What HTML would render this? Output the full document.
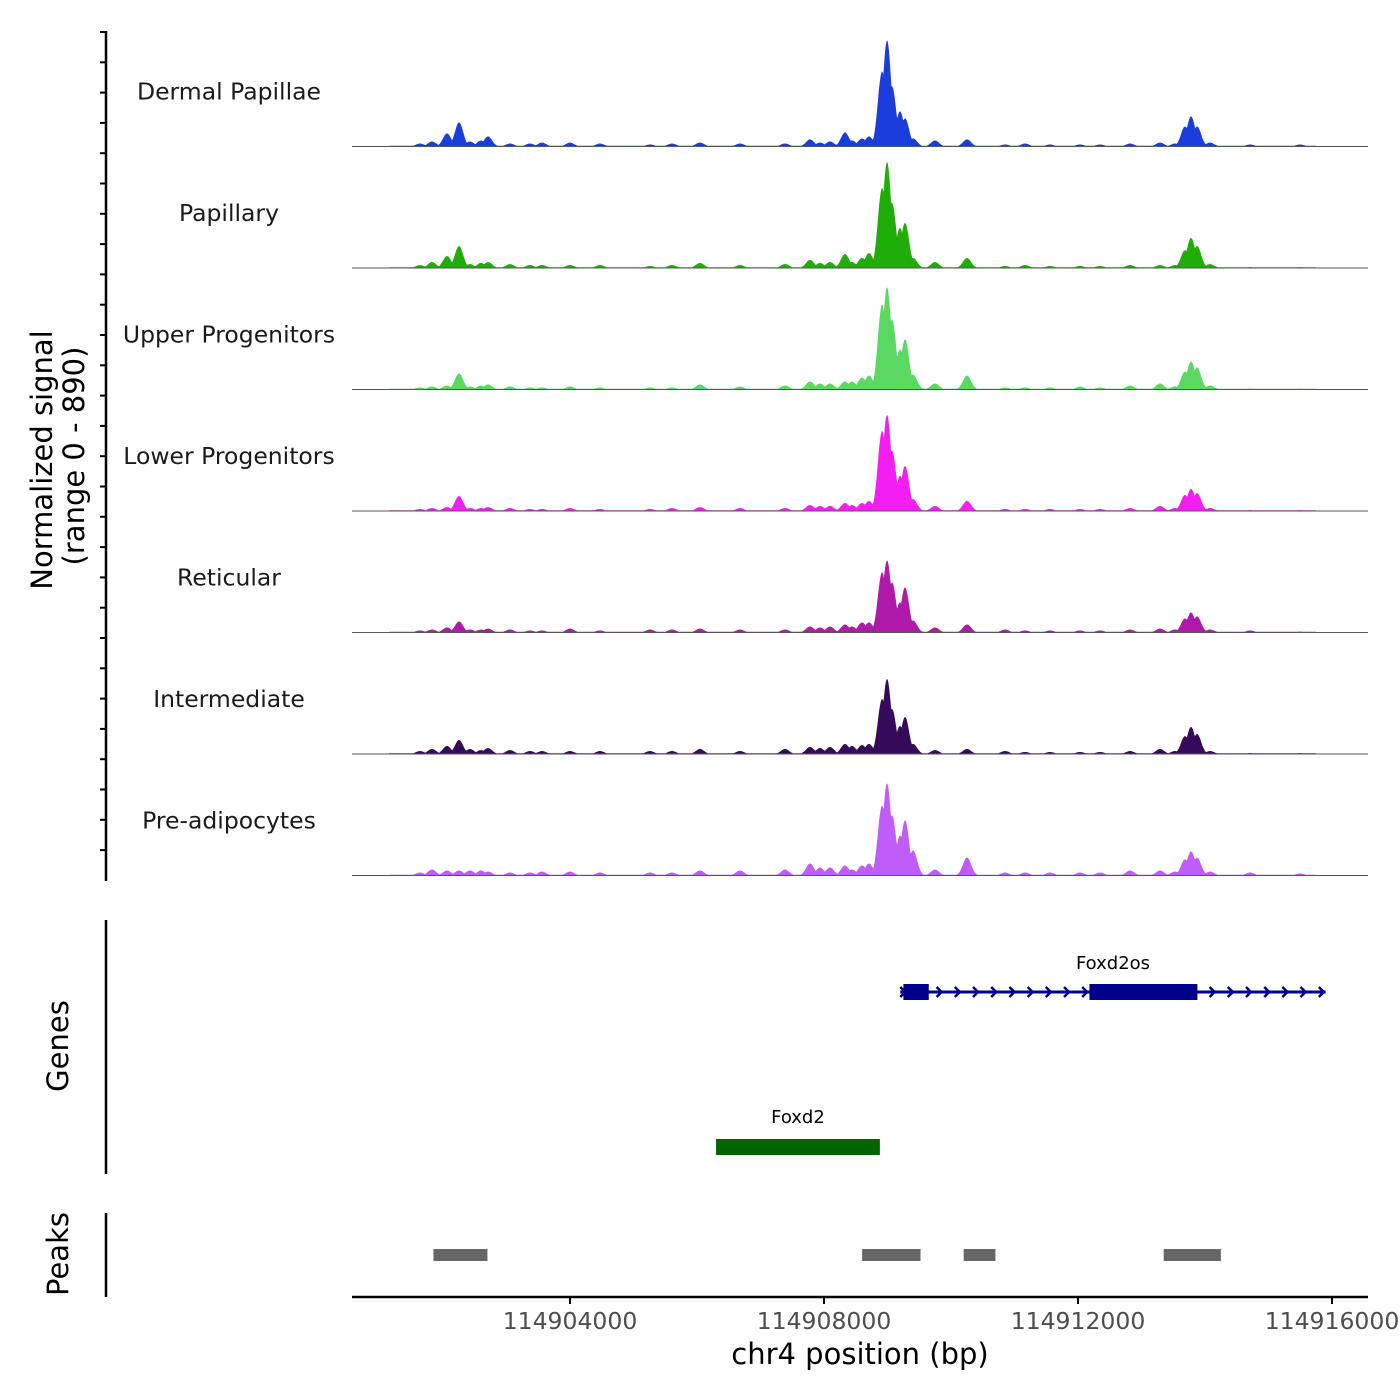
<!DOCTYPE html>
<html><head><meta charset="utf-8"><style>
html,body{margin:0;padding:0;background:#fff;}
svg{display:block;font-family:"Liberation Sans","DejaVu Sans",sans-serif;}
</style></head><body>
<svg id="chart" width="1400" height="1400" viewBox="0 0 1400 1400">
<g>
<text transform="translate(52,460) rotate(-90)" text-anchor="middle" font-size="29" font-family="DejaVu Sans, sans-serif">Normalized signal</text>
<text transform="translate(84,456) rotate(-90)" text-anchor="middle" font-size="29" font-family="DejaVu Sans, sans-serif">(range 0 - 890)</text>
</g>
<line x1="106" y1="31" x2="106" y2="881" stroke="#000" stroke-width="2.5"/>
<g id="yticks"></g>
<g id="tracks"></g>
<line x1="106" y1="920" x2="106" y2="1174" stroke="#000" stroke-width="2.5"/>
<text transform="translate(68,1046) rotate(-90)" text-anchor="middle" font-size="29" font-family="DejaVu Sans, sans-serif">Genes</text>
<line x1="106" y1="1213" x2="106" y2="1297" stroke="#000" stroke-width="2.5"/>
<text transform="translate(68,1254) rotate(-90)" text-anchor="middle" font-size="29" font-family="DejaVu Sans, sans-serif">Peaks</text>
<g id="genes"></g>
<g id="peaks"></g>
<line x1="352" y1="1297" x2="1368" y2="1297" stroke="#000" stroke-width="2.5"/>
<g id="xticks"></g>
<text x="860" y="1364" text-anchor="middle" font-size="29" font-family="DejaVu Sans, sans-serif">chr4 position (bp)</text>
</svg>
<script>
const NS="http://www.w3.org/2000/svg";
const trackNames=["Dermal Papillae","Papillary","Upper Progenitors","Lower Progenitors","Reticular","Intermediate","Pre-adipocytes"];
const trackColors=["#1a3ddc","#1fae07","#5ad862","#f21ef2","#b01aa8","#360a5a","#c05cf7"];
const peakPositions=[114901638,114901827,114902063,114902252,114902425,114902598,114902709,114903055,114903370,114903559,114904000,114904472,114905260,114905606,114906047,114906677,114907386,114907780,114907937,114908095,114908331,114908441,114908599,114908709,114908914,114908993,114909071,114909197,114909276,114909402,114909748,114910252,114910851,114911166,114911560,114912032,114912347,114912820,114913292,114913528,114913686,114913780,114913875,114914080,114914710,114915497];
const dermalPapillae=[22,37,96,177,37,44,74,22,22,29,29,22,15,22,29,22,22,52,29,37,103,44,59,74,552,780,442,258,206,59,44,52,15,22,15,15,15,22,29,22,147,221,147,29,15,15];
const papillary=[22,44,88,162,29,37,44,29,22,22,22,22,15,22,37,22,29,59,37,44,103,44,74,110,589,780,478,294,331,74,44,74,15,22,15,15,15,22,22,22,132,221,162,29,7,7];
const upperProgenitors=[15,22,29,118,22,29,37,22,15,15,22,15,15,15,37,22,29,59,44,44,59,59,88,103,626,751,515,294,368,110,44,103,15,15,15,22,15,29,44,22,132,206,162,29,7,7];
const lowerProgenitors=[15,22,29,110,22,22,29,22,15,15,22,15,15,22,29,22,22,44,37,37,59,44,59,74,589,707,442,258,331,88,37,74,15,15,15,15,15,22,37,22,118,162,132,22,7,7];
const reticular=[15,22,37,81,22,22,29,22,15,15,29,15,22,22,29,22,22,44,37,44,59,44,74,74,442,530,368,221,331,88,37,59,22,15,15,15,15,22,29,22,103,147,118,22,15,7];
const intermediate=[22,37,59,103,37,29,44,29,22,22,22,22,22,22,37,22,37,52,44,52,74,59,66,74,405,552,331,206,272,74,29,37,22,15,15,15,15,22,37,22,132,199,147,22,7,7];
const preAdipocytes=[22,44,37,37,37,37,29,22,22,29,29,22,22,22,37,37,44,88,59,59,74,44,74,88,515,677,442,294,405,184,44,132,22,22,22,22,22,37,37,29,118,177,132,29,22,15];
const trackValues=[dermalPapillae,papillary,upperProgenitors,lowerProgenitors,reticular,intermediate,preAdipocytes];
const xTickValues=[114904000,114908000,114912000,114916000];
const geneNames=["Foxd2os","Foxd2"];
const geneStarts=[114909200,114906300];
const geneEnds=[114915900,114908880];
const foxd2osExonStarts=[114909250,114912180];
const foxd2osExonEnds=[114909650,114913880];
const peakStarts=[114901850,114908600,114910200,114913350];
const peakEnds=[114902700,114909520,114910700,114914250];
const yMax=890;

const xScale=bp=>570+(bp-114904000)*(254/4000);
const trackTop=25, trackH=121.5;
const yScale=(v,i)=>{const base=trackTop+(i+1)*trackH; return base-(v/yMax)*121;};

const yt=document.getElementById('yticks');
for(let k=0;k<=28;k++){const y=32+k*30.3;if(y>880)break;
 const l=document.createElementNS(NS,'line');l.setAttribute('x1',100);l.setAttribute('x2',106);l.setAttribute('y1',y);l.setAttribute('y2',y);l.setAttribute('stroke','#000');l.setAttribute('stroke-width',2);
 
 
 yt.appendChild(l);}
const tg=document.getElementById('tracks');
const sig=65, startBp=114901150, endBp=114915750;
trackValues.forEach((vals,i)=>{
 const base=trackTop+(i+1)*trackH;
 let d=`M${xScale(startBp)},${base}`;
 for(let bp=startBp;bp<=endBp;bp+=8){
  let m=6;
  for(let j=0;j<peakPositions.length;j++){const dx=(bp-peakPositions[j])/sig;if(Math.abs(dx)<5){const v=vals[j]*Math.exp(-0.5*dx*dx);if(v>m)m=v;}}
  d+=`L${xScale(bp).toFixed(1)},${yScale(m,i).toFixed(1)}`;
 }
 d+=`L${xScale(endBp)},${base}Z`;
 const p=document.createElementNS(NS,'path');p.setAttribute('d',d);p.setAttribute('fill',trackColors[i]);
 
 
 tg.appendChild(p);
 const bl=document.createElementNS(NS,'line');bl.setAttribute('x1',352);bl.setAttribute('x2',1368);bl.setAttribute('y1',base);bl.setAttribute('y2',base);bl.setAttribute('stroke','#555');bl.setAttribute('stroke-width',1);
 
 
 tg.appendChild(bl);
 const t=document.createElementNS(NS,'text');t.setAttribute('x',229);t.setAttribute('y',base-47);t.setAttribute('text-anchor','middle');t.setAttribute('font-size',23.5);t.setAttribute('font-family','DejaVu Sans, sans-serif');t.setAttribute('fill','#1a1a1a');t.textContent=trackNames[i];
 
 
 tg.appendChild(t);
});
const gg=document.getElementById('genes');
function add(parent,tag,attrs,name){const e=document.createElementNS(NS,tag);for(const k in attrs)e.setAttribute(k,attrs[k]);
 
 
 parent.appendChild(e);return e;}
{const y=992,x1=xScale(geneStarts[0]),x2=xScale(geneEnds[0]);
 add(gg,'line',{x1:x1,x2:x2,y1:y,y2:y,stroke:'#00008b','stroke-width':3},'foxd2os-line');
 for(let x=x1+4;x<=x2;x+=18.2){add(gg,'path',{d:`M${x-4},${y-5}L${x+1},${y}L${x-4},${y+5}`,stroke:'#00008b','stroke-width':2.5,fill:'none'},'strand-arrow');}
 for(let e=0;e<foxd2osExonStarts.length;e++){const a=xScale(foxd2osExonStarts[e]),b=xScale(foxd2osExonEnds[e]);add(gg,'rect',{x:a,y:y-8,width:b-a,height:16,fill:'#00008b'},'foxd2os-exon');}
 const t=add(gg,'text',{x:1113,y:969,'text-anchor':'middle','font-size':18,'font-family':'DejaVu Sans, sans-serif'},'foxd2os-label');t.textContent=geneNames[0];}
{const y=1147,a=xScale(geneStarts[1]),b=xScale(geneEnds[1]);
 add(gg,'rect',{x:a,y:y-8,width:b-a,height:16,fill:'#006400'},'foxd2-exon');
 const t=add(gg,'text',{x:(a+b)/2,y:1123,'text-anchor':'middle','font-size':18,'font-family':'DejaVu Sans, sans-serif'},'foxd2-label');t.textContent=geneNames[1];}
const pg=document.getElementById('peaks');
for(let i=0;i<peakStarts.length;i++){const a=xScale(peakStarts[i]),b=xScale(peakEnds[i]);add(pg,'rect',{x:a,y:1249,width:b-a,height:12,fill:'#666'},'peak-region');}
const xg=document.getElementById('xticks');
xTickValues.forEach(v=>{const x=xScale(v);add(xg,'line',{x1:x,x2:x,y1:1297,y2:1304,stroke:'#000','stroke-width':2},'x-tick');
 const t=add(xg,'text',{x:x,y:1329,'text-anchor':'middle','font-size':23.5,fill:'#4d4d4d','font-family':'DejaVu Sans, sans-serif'},'x-tick-label');t.textContent=v;});
</script>
</body></html>
